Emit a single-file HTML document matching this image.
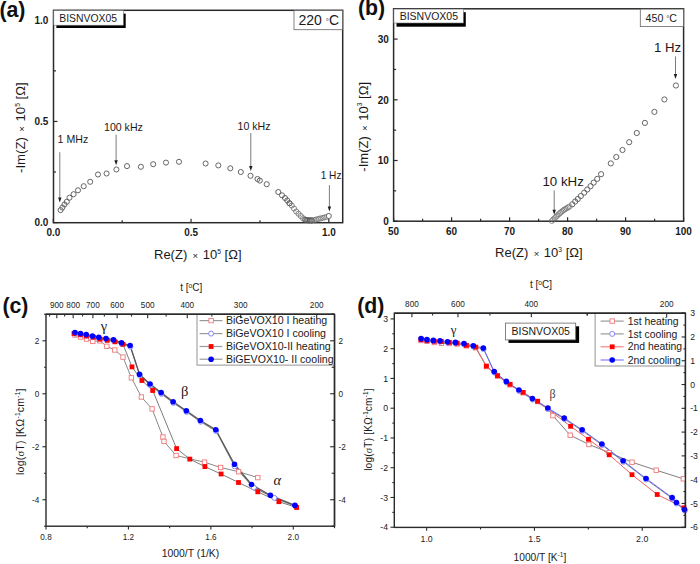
<!DOCTYPE html>
<html><head><meta charset="utf-8"><style>
html,body{margin:0;padding:0;background:#fff;}
body{width:700px;height:564px;overflow:hidden;font-family:"Liberation Sans",sans-serif;}
svg{display:block;}
</style></head><body>
<svg width="700" height="564" viewBox="0 0 700 564">
<rect width="700" height="564" fill="#fff"/>
<rect x="53.5" y="10.3" width="289.2" height="212.4" fill="none" stroke="#2a2a2a" stroke-width="1.5"/>
<line x1="53.5" y1="222.6" x2="57.5" y2="222.6" stroke="#2a2a2a" stroke-width="1.2"/>
<line x1="53.3" y1="222.7" x2="53.3" y2="218.7" stroke="#2a2a2a" stroke-width="1.2"/>
<line x1="53.5" y1="172.02" x2="56" y2="172.02" stroke="#2a2a2a" stroke-width="1.2"/>
<line x1="122.17" y1="222.7" x2="122.17" y2="220.2" stroke="#2a2a2a" stroke-width="1.2"/>
<line x1="53.5" y1="121.45" x2="57.5" y2="121.45" stroke="#2a2a2a" stroke-width="1.2"/>
<line x1="191.05" y1="222.7" x2="191.05" y2="218.7" stroke="#2a2a2a" stroke-width="1.2"/>
<line x1="53.5" y1="70.87" x2="56" y2="70.87" stroke="#2a2a2a" stroke-width="1.2"/>
<line x1="259.93" y1="222.7" x2="259.93" y2="220.2" stroke="#2a2a2a" stroke-width="1.2"/>
<line x1="53.5" y1="20.3" x2="57.5" y2="20.3" stroke="#2a2a2a" stroke-width="1.2"/>
<line x1="328.8" y1="222.7" x2="328.8" y2="218.7" stroke="#2a2a2a" stroke-width="1.2"/>
<text transform="translate(48.4,226.2) scale(0.95,1)" font-family='"Liberation Sans", sans-serif' font-size="10.5" text-anchor="end" font-weight="bold" fill="#1a1a1a">0.0</text>
<text transform="translate(53.3,236.4) scale(0.95,1)" font-family='"Liberation Sans", sans-serif' font-size="10.5" text-anchor="middle" font-weight="bold" fill="#1a1a1a">0.0</text>
<text transform="translate(48.4,125.05) scale(0.95,1)" font-family='"Liberation Sans", sans-serif' font-size="10.5" text-anchor="end" font-weight="bold" fill="#1a1a1a">0.5</text>
<text transform="translate(191.05,236.4) scale(0.95,1)" font-family='"Liberation Sans", sans-serif' font-size="10.5" text-anchor="middle" font-weight="bold" fill="#1a1a1a">0.5</text>
<text transform="translate(48.4,23.9) scale(0.95,1)" font-family='"Liberation Sans", sans-serif' font-size="10.5" text-anchor="end" font-weight="bold" fill="#1a1a1a">1.0</text>
<text transform="translate(328.8,236.4) scale(0.95,1)" font-family='"Liberation Sans", sans-serif' font-size="10.5" text-anchor="middle" font-weight="bold" fill="#1a1a1a">1.0</text>
<text x="53.5" y="0" font-family='"Liberation Sans", sans-serif' font-size="1" text-anchor="start" fill="#1a1a1a"></text>
<text transform="translate(25.1,127.6) rotate(-90)" font-family='"Liberation Sans", sans-serif' font-size="13.2" text-anchor="middle" fill="#1a1a1a">-Im(Z) <tspan font-size="9.5" dx="1.7">×</tspan><tspan dx="1"> 10</tspan><tspan font-size="6.8" dy="-5.6">5</tspan><tspan dy="5.6"> [Ω]</tspan></text>
<text x="154" y="259.2" font-family='"Liberation Sans", sans-serif' font-size="13" fill="#1a1a1a">Re(Z) <tspan font-size="9.5" dx="1.7">×</tspan><tspan dx="1"> 10</tspan><tspan font-size="6.8" dy="-5.6">5</tspan><tspan dy="5.6"> [Ω]</tspan></text>
<text x="-0.6" y="17.2" font-family='"Liberation Sans", sans-serif' font-size="21.3" text-anchor="start" font-weight="bold" fill="#111">(a)</text>
<rect x="56.4" y="13.6" width="69.3" height="14.4" fill="#000"/>
<rect x="53.8" y="10.6" width="69.6" height="14.6" fill="#fff" stroke="#777" stroke-width="0.6"/>
<text x="59.3" y="21.8" font-family='"Liberation Sans", sans-serif' font-size="10.4" text-anchor="start" fill="#1a1a1a">BISNVOX05</text>
<rect x="294" y="10.6" width="48.4" height="19.1" fill="#fff" stroke="#666" stroke-width="0.8"/>
<text x="298.5" y="25.2" font-family='"Liberation Sans", sans-serif' font-size="14" text-anchor="start" fill="#1a1a1a">220 <tspan font-size="8" dy="-1.5">°</tspan><tspan dy="1.5">C</tspan></text>
<circle cx="60.6" cy="210.1" r="2.55" fill="none" stroke="#5e5e5e" stroke-width="0.95"/>
<circle cx="62.4" cy="207.5" r="2.55" fill="none" stroke="#5e5e5e" stroke-width="0.95"/>
<circle cx="64.5" cy="204.5" r="2.55" fill="none" stroke="#5e5e5e" stroke-width="0.95"/>
<circle cx="66.8" cy="201.8" r="2.55" fill="none" stroke="#5e5e5e" stroke-width="0.95"/>
<circle cx="69.5" cy="197.7" r="2.55" fill="none" stroke="#5e5e5e" stroke-width="0.95"/>
<circle cx="73.6" cy="194.2" r="2.55" fill="none" stroke="#5e5e5e" stroke-width="0.95"/>
<circle cx="78" cy="190.3" r="2.55" fill="none" stroke="#5e5e5e" stroke-width="0.95"/>
<circle cx="83.7" cy="186.2" r="2.55" fill="none" stroke="#5e5e5e" stroke-width="0.95"/>
<circle cx="90.2" cy="181.8" r="2.55" fill="none" stroke="#5e5e5e" stroke-width="0.95"/>
<circle cx="98" cy="174.5" r="2.55" fill="none" stroke="#5e5e5e" stroke-width="0.95"/>
<circle cx="106.6" cy="173.5" r="2.55" fill="none" stroke="#5e5e5e" stroke-width="0.95"/>
<circle cx="116.4" cy="169.5" r="2.55" fill="none" stroke="#5e5e5e" stroke-width="0.95"/>
<circle cx="127" cy="166.1" r="2.55" fill="none" stroke="#5e5e5e" stroke-width="0.95"/>
<circle cx="140.9" cy="166.8" r="2.55" fill="none" stroke="#5e5e5e" stroke-width="0.95"/>
<circle cx="153.2" cy="164.2" r="2.55" fill="none" stroke="#5e5e5e" stroke-width="0.95"/>
<circle cx="166" cy="162.6" r="2.55" fill="none" stroke="#5e5e5e" stroke-width="0.95"/>
<circle cx="179" cy="161.8" r="2.55" fill="none" stroke="#5e5e5e" stroke-width="0.95"/>
<circle cx="205.6" cy="163.5" r="2.55" fill="none" stroke="#5e5e5e" stroke-width="0.95"/>
<circle cx="218.3" cy="165.4" r="2.55" fill="none" stroke="#5e5e5e" stroke-width="0.95"/>
<circle cx="230.3" cy="168.3" r="2.55" fill="none" stroke="#5e5e5e" stroke-width="0.95"/>
<circle cx="240.8" cy="172" r="2.55" fill="none" stroke="#5e5e5e" stroke-width="0.95"/>
<circle cx="250.5" cy="175.8" r="2.55" fill="none" stroke="#5e5e5e" stroke-width="0.95"/>
<circle cx="257.5" cy="179" r="2.55" fill="none" stroke="#5e5e5e" stroke-width="0.95"/>
<circle cx="259.8" cy="180.6" r="2.55" fill="none" stroke="#5e5e5e" stroke-width="0.95"/>
<circle cx="266.7" cy="184.2" r="2.55" fill="none" stroke="#5e5e5e" stroke-width="0.95"/>
<circle cx="278.25" cy="192" r="2.55" fill="none" stroke="#5e5e5e" stroke-width="0.95"/>
<circle cx="282" cy="195.3" r="2.55" fill="none" stroke="#5e5e5e" stroke-width="0.95"/>
<circle cx="285" cy="198" r="2.55" fill="none" stroke="#5e5e5e" stroke-width="0.95"/>
<circle cx="287.25" cy="200.5" r="2.55" fill="none" stroke="#5e5e5e" stroke-width="0.95"/>
<circle cx="289.5" cy="203.25" r="2.55" fill="none" stroke="#5e5e5e" stroke-width="0.95"/>
<circle cx="289.5" cy="203.25" r="2.55" fill="none" stroke="#626262" stroke-width="0.75"/>
<circle cx="291.75" cy="205.5" r="2.55" fill="none" stroke="#626262" stroke-width="0.75"/>
<circle cx="294" cy="208.5" r="2.55" fill="none" stroke="#626262" stroke-width="0.75"/>
<circle cx="296.25" cy="211.5" r="2.55" fill="none" stroke="#626262" stroke-width="0.75"/>
<circle cx="298.5" cy="213.75" r="2.55" fill="none" stroke="#626262" stroke-width="0.75"/>
<circle cx="300.75" cy="216" r="2.55" fill="none" stroke="#626262" stroke-width="0.75"/>
<circle cx="303" cy="218.25" r="2.55" fill="none" stroke="#626262" stroke-width="0.75"/>
<circle cx="305.25" cy="219.75" r="2.55" fill="none" stroke="#626262" stroke-width="0.75"/>
<circle cx="305.25" cy="219.75" r="2.55" fill="none" stroke="#555" stroke-width="0.75"/>
<circle cx="306.62" cy="220.03" r="2.55" fill="none" stroke="#555" stroke-width="0.75"/>
<circle cx="308" cy="220.3" r="2.55" fill="none" stroke="#555" stroke-width="0.75"/>
<circle cx="309" cy="220.33" r="2.55" fill="none" stroke="#555" stroke-width="0.75"/>
<circle cx="310" cy="220.35" r="2.55" fill="none" stroke="#555" stroke-width="0.75"/>
<circle cx="311" cy="220.38" r="2.55" fill="none" stroke="#555" stroke-width="0.75"/>
<circle cx="312" cy="220.4" r="2.55" fill="none" stroke="#555" stroke-width="0.75"/>
<circle cx="312" cy="220.4" r="2.55" fill="none" stroke="#6a6a6a" stroke-width="0.65"/>
<circle cx="314.3" cy="220" r="2.55" fill="none" stroke="#6a6a6a" stroke-width="0.65"/>
<circle cx="316" cy="219.55" r="2.55" fill="none" stroke="#6a6a6a" stroke-width="0.65"/>
<circle cx="317.7" cy="219.1" r="2.55" fill="none" stroke="#6a6a6a" stroke-width="0.65"/>
<circle cx="319.4" cy="218.7" r="2.55" fill="none" stroke="#6a6a6a" stroke-width="0.65"/>
<circle cx="321.1" cy="218.3" r="2.55" fill="none" stroke="#6a6a6a" stroke-width="0.65"/>
<circle cx="322.85" cy="217.85" r="2.55" fill="none" stroke="#6a6a6a" stroke-width="0.65"/>
<circle cx="324.6" cy="217.4" r="2.55" fill="none" stroke="#6a6a6a" stroke-width="0.65"/>
<circle cx="326.5" cy="216.9" r="2.55" fill="none" stroke="#6a6a6a" stroke-width="0.65"/>
<circle cx="328.8" cy="216" r="2.55" fill="#fff" stroke="#5e5e5e" stroke-width="0.95"/>
<line x1="59.8" y1="152.2" x2="59.8" y2="198.1" stroke="#505050" stroke-width="0.75"/>
<path d="M58.1,197.6 L61.5,197.6 L59.8,202.6 Z" fill="#1e1e1e"/>
<text x="57.6" y="142.8" font-family='"Liberation Sans", sans-serif' font-size="10.6" text-anchor="start" fill="#1a1a1a">1 MHz</text>
<line x1="116.1" y1="134.6" x2="116.1" y2="160.8" stroke="#505050" stroke-width="0.75"/>
<path d="M114.4,160.3 L117.8,160.3 L116.1,165.3 Z" fill="#1e1e1e"/>
<text x="104" y="130.8" font-family='"Liberation Sans", sans-serif' font-size="10.6" text-anchor="start" fill="#1a1a1a">100 kHz</text>
<line x1="250.8" y1="133" x2="250.8" y2="166.5" stroke="#505050" stroke-width="0.75"/>
<path d="M249.1,166 L252.5,166 L250.8,171 Z" fill="#1e1e1e"/>
<text x="237.6" y="129.8" font-family='"Liberation Sans", sans-serif' font-size="10.6" text-anchor="start" fill="#1a1a1a">10 kHz</text>
<line x1="329.4" y1="185.2" x2="329.4" y2="206.9" stroke="#505050" stroke-width="0.75"/>
<path d="M327.7,206.4 L331.1,206.4 L329.4,211.4 Z" fill="#1e1e1e"/>
<text x="320.7" y="178.8" font-family='"Liberation Sans", sans-serif' font-size="10.1" text-anchor="start" fill="#1a1a1a">1 Hz</text>
<rect x="393.6" y="8.8" width="290" height="212.4" fill="none" stroke="#2a2a2a" stroke-width="1.5"/>
<line x1="393.6" y1="221.2" x2="397.6" y2="221.2" stroke="#2a2a2a" stroke-width="1.2"/>
<line x1="393.6" y1="190.85" x2="396.1" y2="190.85" stroke="#2a2a2a" stroke-width="1.2"/>
<line x1="393.6" y1="160.5" x2="397.6" y2="160.5" stroke="#2a2a2a" stroke-width="1.2"/>
<line x1="393.6" y1="130.15" x2="396.1" y2="130.15" stroke="#2a2a2a" stroke-width="1.2"/>
<line x1="393.6" y1="99.8" x2="397.6" y2="99.8" stroke="#2a2a2a" stroke-width="1.2"/>
<line x1="393.6" y1="69.45" x2="396.1" y2="69.45" stroke="#2a2a2a" stroke-width="1.2"/>
<line x1="393.6" y1="39.1" x2="397.6" y2="39.1" stroke="#2a2a2a" stroke-width="1.2"/>
<line x1="393.6" y1="221.2" x2="393.6" y2="217.2" stroke="#2a2a2a" stroke-width="1.2"/>
<line x1="422.6" y1="221.2" x2="422.6" y2="218.7" stroke="#2a2a2a" stroke-width="1.2"/>
<line x1="451.6" y1="221.2" x2="451.6" y2="217.2" stroke="#2a2a2a" stroke-width="1.2"/>
<line x1="480.6" y1="221.2" x2="480.6" y2="218.7" stroke="#2a2a2a" stroke-width="1.2"/>
<line x1="509.6" y1="221.2" x2="509.6" y2="217.2" stroke="#2a2a2a" stroke-width="1.2"/>
<line x1="538.6" y1="221.2" x2="538.6" y2="218.7" stroke="#2a2a2a" stroke-width="1.2"/>
<line x1="567.6" y1="221.2" x2="567.6" y2="217.2" stroke="#2a2a2a" stroke-width="1.2"/>
<line x1="596.6" y1="221.2" x2="596.6" y2="218.7" stroke="#2a2a2a" stroke-width="1.2"/>
<line x1="625.6" y1="221.2" x2="625.6" y2="217.2" stroke="#2a2a2a" stroke-width="1.2"/>
<line x1="654.6" y1="221.2" x2="654.6" y2="218.7" stroke="#2a2a2a" stroke-width="1.2"/>
<line x1="683.6" y1="221.2" x2="683.6" y2="217.2" stroke="#2a2a2a" stroke-width="1.2"/>
<text transform="translate(388.9,225.1) scale(0.96,1)" font-family='"Liberation Sans", sans-serif' font-size="10.4" text-anchor="end" font-weight="bold" fill="#1a1a1a">0</text>
<text transform="translate(388.9,164.4) scale(0.96,1)" font-family='"Liberation Sans", sans-serif' font-size="10.4" text-anchor="end" font-weight="bold" fill="#1a1a1a">10</text>
<text transform="translate(388.9,103.7) scale(0.96,1)" font-family='"Liberation Sans", sans-serif' font-size="10.4" text-anchor="end" font-weight="bold" fill="#1a1a1a">20</text>
<text transform="translate(388.9,43) scale(0.96,1)" font-family='"Liberation Sans", sans-serif' font-size="10.4" text-anchor="end" font-weight="bold" fill="#1a1a1a">30</text>
<text transform="translate(393.6,235.1) scale(0.96,1)" font-family='"Liberation Sans", sans-serif' font-size="10.4" text-anchor="middle" font-weight="bold" fill="#1a1a1a">50</text>
<text transform="translate(451.6,235.1) scale(0.96,1)" font-family='"Liberation Sans", sans-serif' font-size="10.4" text-anchor="middle" font-weight="bold" fill="#1a1a1a">60</text>
<text transform="translate(509.6,235.1) scale(0.96,1)" font-family='"Liberation Sans", sans-serif' font-size="10.4" text-anchor="middle" font-weight="bold" fill="#1a1a1a">70</text>
<text transform="translate(567.6,235.1) scale(0.96,1)" font-family='"Liberation Sans", sans-serif' font-size="10.4" text-anchor="middle" font-weight="bold" fill="#1a1a1a">80</text>
<text transform="translate(625.6,235.1) scale(0.96,1)" font-family='"Liberation Sans", sans-serif' font-size="10.4" text-anchor="middle" font-weight="bold" fill="#1a1a1a">90</text>
<text transform="translate(683.6,235.1) scale(0.96,1)" font-family='"Liberation Sans", sans-serif' font-size="10.4" text-anchor="middle" font-weight="bold" fill="#1a1a1a">100</text>
<text transform="translate(368,126.8) rotate(-90)" font-family='"Liberation Sans", sans-serif' font-size="13" text-anchor="middle" fill="#1a1a1a">-Im(Z) <tspan font-size="9.5" dx="1.7">×</tspan><tspan dx="1"> 10</tspan><tspan font-size="6.8" dy="-5.6">3</tspan><tspan dy="5.6"> [Ω]</tspan></text>
<text x="495.1" y="257.4" font-family='"Liberation Sans", sans-serif' font-size="13" fill="#1a1a1a">Re(Z) <tspan font-size="9.5" dx="1.7">×</tspan><tspan dx="1"> 10</tspan><tspan font-size="6.8" dy="-5.6">3</tspan><tspan dy="5.6"> [Ω]</tspan></text>
<text x="357.9" y="15.2" font-family='"Liberation Sans", sans-serif' font-size="21.3" text-anchor="start" font-weight="bold" fill="#111">(b)</text>
<rect x="396.5" y="12.2" width="69.3" height="14.5" fill="#000"/>
<rect x="393.9" y="9.1" width="69.5" height="13.9" fill="#fff" stroke="#777" stroke-width="0.6"/>
<text x="399.7" y="20" font-family='"Liberation Sans", sans-serif' font-size="10.5" text-anchor="start" fill="#1a1a1a">BISNVOX05</text>
<rect x="640.3" y="9.1" width="43.1" height="17.5" fill="#fff" stroke="#666" stroke-width="0.8"/>
<text x="645.6" y="21.9" font-family='"Liberation Sans", sans-serif' font-size="10.6" text-anchor="start" fill="#1a1a1a">450 <tspan font-size="7.5" dy="-1">°</tspan><tspan dy="1">C</tspan></text>
<circle cx="551.8" cy="221" r="2.6" fill="none" stroke="#6a6a6a" stroke-width="0.65"/>
<circle cx="553.2" cy="219.6" r="2.6" fill="none" stroke="#6a6a6a" stroke-width="0.65"/>
<circle cx="554.6" cy="218.2" r="2.6" fill="none" stroke="#6a6a6a" stroke-width="0.65"/>
<circle cx="556" cy="216.8" r="2.6" fill="none" stroke="#6a6a6a" stroke-width="0.65"/>
<circle cx="557.33" cy="215.53" r="2.6" fill="none" stroke="#6a6a6a" stroke-width="0.65"/>
<circle cx="558.67" cy="214.27" r="2.6" fill="none" stroke="#6a6a6a" stroke-width="0.65"/>
<circle cx="560" cy="213" r="2.6" fill="none" stroke="#6a6a6a" stroke-width="0.65"/>
<circle cx="561.33" cy="211.93" r="2.6" fill="none" stroke="#6a6a6a" stroke-width="0.65"/>
<circle cx="562.67" cy="210.87" r="2.6" fill="none" stroke="#6a6a6a" stroke-width="0.65"/>
<circle cx="564" cy="209.8" r="2.6" fill="none" stroke="#6a6a6a" stroke-width="0.65"/>
<circle cx="565.38" cy="209" r="2.6" fill="none" stroke="#6a6a6a" stroke-width="0.65"/>
<circle cx="566.75" cy="208.2" r="2.6" fill="none" stroke="#6a6a6a" stroke-width="0.65"/>
<circle cx="568.12" cy="207.4" r="2.6" fill="none" stroke="#6a6a6a" stroke-width="0.65"/>
<circle cx="569.5" cy="206.6" r="2.6" fill="none" stroke="#6a6a6a" stroke-width="0.65"/>
<circle cx="675.9" cy="85.5" r="2.6" fill="none" stroke="#5e5e5e" stroke-width="0.95"/>
<circle cx="664.4" cy="99.5" r="2.6" fill="none" stroke="#5e5e5e" stroke-width="0.95"/>
<circle cx="654.4" cy="111.9" r="2.6" fill="none" stroke="#5e5e5e" stroke-width="0.95"/>
<circle cx="644.9" cy="122.9" r="2.6" fill="none" stroke="#5e5e5e" stroke-width="0.95"/>
<circle cx="636.8" cy="133" r="2.6" fill="none" stroke="#5e5e5e" stroke-width="0.95"/>
<circle cx="629.2" cy="142.2" r="2.6" fill="none" stroke="#5e5e5e" stroke-width="0.95"/>
<circle cx="622.5" cy="150" r="2.6" fill="none" stroke="#5e5e5e" stroke-width="0.95"/>
<circle cx="616.3" cy="157" r="2.6" fill="none" stroke="#5e5e5e" stroke-width="0.95"/>
<circle cx="610.8" cy="163.4" r="2.6" fill="none" stroke="#5e5e5e" stroke-width="0.95"/>
<circle cx="601.1" cy="174.2" r="2.6" fill="none" stroke="#5e5e5e" stroke-width="0.95"/>
<circle cx="597.2" cy="178.9" r="2.6" fill="none" stroke="#5e5e5e" stroke-width="0.95"/>
<circle cx="593.7" cy="182.6" r="2.6" fill="none" stroke="#5e5e5e" stroke-width="0.95"/>
<circle cx="590.5" cy="186.2" r="2.6" fill="none" stroke="#5e5e5e" stroke-width="0.95"/>
<circle cx="587.3" cy="189.5" r="2.6" fill="none" stroke="#5e5e5e" stroke-width="0.95"/>
<circle cx="584.2" cy="192.7" r="2.6" fill="none" stroke="#5e5e5e" stroke-width="0.95"/>
<circle cx="580.8" cy="196" r="2.6" fill="none" stroke="#5e5e5e" stroke-width="0.95"/>
<circle cx="577.8" cy="199" r="2.6" fill="none" stroke="#5e5e5e" stroke-width="0.95"/>
<circle cx="575.2" cy="201.5" r="2.6" fill="none" stroke="#5e5e5e" stroke-width="0.95"/>
<circle cx="572.3" cy="204.3" r="2.6" fill="none" stroke="#5e5e5e" stroke-width="0.95"/>
<line x1="675.5" y1="56.4" x2="675.5" y2="74.5" stroke="#505050" stroke-width="0.75"/>
<path d="M673.8,74 L677.2,74 L675.5,79 Z" fill="#1e1e1e"/>
<text x="654" y="51.5" font-family='"Liberation Sans", sans-serif' font-size="13.2" text-anchor="start" fill="#1a1a1a">1 Hz</text>
<line x1="554.2" y1="190.4" x2="554.2" y2="210.3" stroke="#505050" stroke-width="0.75"/>
<path d="M552.5,209.8 L555.9,209.8 L554.2,214.8 Z" fill="#1e1e1e"/>
<text x="542.4" y="186.4" font-family='"Liberation Sans", sans-serif' font-size="13.3" text-anchor="start" fill="#1a1a1a">10 kHz</text>
<rect x="46" y="314.3" width="288.5" height="211.9" fill="none" stroke="#2a2a2a" stroke-width="1.4"/>
<line x1="46" y1="526.22" x2="44" y2="526.22" stroke="#2a2a2a" stroke-width="1.1"/>
<line x1="334.5" y1="526.22" x2="331.7" y2="526.22" stroke="#2a2a2a" stroke-width="1.1"/>
<line x1="46" y1="499.73" x2="42.4" y2="499.73" stroke="#2a2a2a" stroke-width="1.1"/>
<line x1="334.5" y1="499.73" x2="330.1" y2="499.73" stroke="#2a2a2a" stroke-width="1.1"/>
<line x1="46" y1="473.24" x2="44" y2="473.24" stroke="#2a2a2a" stroke-width="1.1"/>
<line x1="334.5" y1="473.24" x2="331.7" y2="473.24" stroke="#2a2a2a" stroke-width="1.1"/>
<line x1="46" y1="446.75" x2="42.4" y2="446.75" stroke="#2a2a2a" stroke-width="1.1"/>
<line x1="334.5" y1="446.75" x2="330.1" y2="446.75" stroke="#2a2a2a" stroke-width="1.1"/>
<line x1="46" y1="420.26" x2="44" y2="420.26" stroke="#2a2a2a" stroke-width="1.1"/>
<line x1="334.5" y1="420.26" x2="331.7" y2="420.26" stroke="#2a2a2a" stroke-width="1.1"/>
<line x1="46" y1="393.77" x2="42.4" y2="393.77" stroke="#2a2a2a" stroke-width="1.1"/>
<line x1="334.5" y1="393.77" x2="330.1" y2="393.77" stroke="#2a2a2a" stroke-width="1.1"/>
<line x1="46" y1="367.28" x2="44" y2="367.28" stroke="#2a2a2a" stroke-width="1.1"/>
<line x1="334.5" y1="367.28" x2="331.7" y2="367.28" stroke="#2a2a2a" stroke-width="1.1"/>
<line x1="46" y1="340.79" x2="42.4" y2="340.79" stroke="#2a2a2a" stroke-width="1.1"/>
<line x1="334.5" y1="340.79" x2="330.1" y2="340.79" stroke="#2a2a2a" stroke-width="1.1"/>
<line x1="46" y1="314.3" x2="44" y2="314.3" stroke="#2a2a2a" stroke-width="1.1"/>
<line x1="334.5" y1="314.3" x2="331.7" y2="314.3" stroke="#2a2a2a" stroke-width="1.1"/>
<line x1="46" y1="526.2" x2="46" y2="529.4" stroke="#2a2a2a" stroke-width="1.1"/>
<line x1="87.21" y1="526.2" x2="87.21" y2="528.2" stroke="#2a2a2a" stroke-width="1.1"/>
<line x1="128.43" y1="526.2" x2="128.43" y2="529.4" stroke="#2a2a2a" stroke-width="1.1"/>
<line x1="169.64" y1="526.2" x2="169.64" y2="528.2" stroke="#2a2a2a" stroke-width="1.1"/>
<line x1="210.86" y1="526.2" x2="210.86" y2="529.4" stroke="#2a2a2a" stroke-width="1.1"/>
<line x1="252.07" y1="526.2" x2="252.07" y2="528.2" stroke="#2a2a2a" stroke-width="1.1"/>
<line x1="293.28" y1="526.2" x2="293.28" y2="529.4" stroke="#2a2a2a" stroke-width="1.1"/>
<line x1="334.5" y1="526.2" x2="334.5" y2="528.2" stroke="#2a2a2a" stroke-width="1.1"/>
<line x1="316.67" y1="314.3" x2="316.67" y2="318.3" stroke="#2a2a2a" stroke-width="1.1"/>
<line x1="275.05" y1="314.3" x2="275.05" y2="316.5" stroke="#2a2a2a" stroke-width="1.1"/>
<line x1="240.68" y1="314.3" x2="240.68" y2="318.3" stroke="#2a2a2a" stroke-width="1.1"/>
<line x1="211.83" y1="314.3" x2="211.83" y2="316.5" stroke="#2a2a2a" stroke-width="1.1"/>
<line x1="187.27" y1="314.3" x2="187.27" y2="318.3" stroke="#2a2a2a" stroke-width="1.1"/>
<line x1="166.11" y1="314.3" x2="166.11" y2="316.5" stroke="#2a2a2a" stroke-width="1.1"/>
<line x1="147.68" y1="314.3" x2="147.68" y2="318.3" stroke="#2a2a2a" stroke-width="1.1"/>
<line x1="131.49" y1="314.3" x2="131.49" y2="316.5" stroke="#2a2a2a" stroke-width="1.1"/>
<line x1="117.15" y1="314.3" x2="117.15" y2="318.3" stroke="#2a2a2a" stroke-width="1.1"/>
<line x1="104.37" y1="314.3" x2="104.37" y2="316.5" stroke="#2a2a2a" stroke-width="1.1"/>
<line x1="92.9" y1="314.3" x2="92.9" y2="318.3" stroke="#2a2a2a" stroke-width="1.1"/>
<line x1="82.55" y1="314.3" x2="82.55" y2="316.5" stroke="#2a2a2a" stroke-width="1.1"/>
<line x1="73.17" y1="314.3" x2="73.17" y2="318.3" stroke="#2a2a2a" stroke-width="1.1"/>
<line x1="64.62" y1="314.3" x2="64.62" y2="316.5" stroke="#2a2a2a" stroke-width="1.1"/>
<line x1="56.8" y1="314.3" x2="56.8" y2="318.3" stroke="#2a2a2a" stroke-width="1.1"/>
<line x1="49.62" y1="314.3" x2="49.62" y2="316.5" stroke="#2a2a2a" stroke-width="1.1"/>
<text x="39.4" y="343.69" font-family='"Liberation Sans", sans-serif' font-size="8.2" text-anchor="end" fill="#1a1a1a">2</text>
<text x="338.6" y="343.69" font-family='"Liberation Sans", sans-serif' font-size="8.2" text-anchor="start" fill="#1a1a1a">2</text>
<text x="39.4" y="396.67" font-family='"Liberation Sans", sans-serif' font-size="8.2" text-anchor="end" fill="#1a1a1a">0</text>
<text x="338.6" y="396.67" font-family='"Liberation Sans", sans-serif' font-size="8.2" text-anchor="start" fill="#1a1a1a">0</text>
<text x="39.4" y="449.65" font-family='"Liberation Sans", sans-serif' font-size="8.2" text-anchor="end" fill="#1a1a1a">-2</text>
<text x="338.6" y="449.65" font-family='"Liberation Sans", sans-serif' font-size="8.2" text-anchor="start" fill="#1a1a1a">-2</text>
<text x="39.4" y="502.63" font-family='"Liberation Sans", sans-serif' font-size="8.2" text-anchor="end" fill="#1a1a1a">-4</text>
<text x="338.6" y="502.63" font-family='"Liberation Sans", sans-serif' font-size="8.2" text-anchor="start" fill="#1a1a1a">-4</text>
<text x="46" y="540.2" font-family='"Liberation Sans", sans-serif' font-size="8.2" text-anchor="middle" fill="#1a1a1a">0.8</text>
<text x="128.43" y="540.2" font-family='"Liberation Sans", sans-serif' font-size="8.2" text-anchor="middle" fill="#1a1a1a">1.2</text>
<text x="210.86" y="540.2" font-family='"Liberation Sans", sans-serif' font-size="8.2" text-anchor="middle" fill="#1a1a1a">1.6</text>
<text x="293.28" y="540.2" font-family='"Liberation Sans", sans-serif' font-size="8.2" text-anchor="middle" fill="#1a1a1a">2.0</text>
<text x="316.67" y="307.6" font-family='"Liberation Sans", sans-serif' font-size="8.2" text-anchor="middle" fill="#1a1a1a">200</text>
<text x="240.68" y="307.6" font-family='"Liberation Sans", sans-serif' font-size="8.2" text-anchor="middle" fill="#1a1a1a">300</text>
<text x="187.27" y="307.6" font-family='"Liberation Sans", sans-serif' font-size="8.2" text-anchor="middle" fill="#1a1a1a">400</text>
<text x="147.68" y="307.6" font-family='"Liberation Sans", sans-serif' font-size="8.2" text-anchor="middle" fill="#1a1a1a">500</text>
<text x="117.15" y="307.6" font-family='"Liberation Sans", sans-serif' font-size="8.2" text-anchor="middle" fill="#1a1a1a">600</text>
<text x="92.9" y="307.6" font-family='"Liberation Sans", sans-serif' font-size="8.2" text-anchor="middle" fill="#1a1a1a">700</text>
<text x="73.17" y="307.6" font-family='"Liberation Sans", sans-serif' font-size="8.2" text-anchor="middle" fill="#1a1a1a">800</text>
<text x="56.8" y="307.6" font-family='"Liberation Sans", sans-serif' font-size="8.2" text-anchor="middle" fill="#1a1a1a">900</text>
<text x="180.2" y="291.3" font-family='"Liberation Sans", sans-serif' font-size="10" text-anchor="start" fill="#1a1a1a">t [<tspan font-size="6.5" dy="-3.5">o</tspan><tspan dy="3.5">C]</tspan></text>
<text x="161.7" y="557.4" font-family='"Liberation Sans", sans-serif' font-size="10.4" text-anchor="start" fill="#1a1a1a">1000/T (1/K)</text>
<text transform="translate(24.2,431.8) rotate(-90)" font-family='"Liberation Sans", sans-serif' font-size="10.5" text-anchor="middle" textLength="86.5" lengthAdjust="spacing" fill="#1a1a1a">log(<tspan font-family='"Liberation Serif", serif'>σ</tspan>T) [KΩ<tspan font-size="6.5" dy="-4">-1</tspan><tspan dy="4">cm</tspan><tspan font-size="6.5" dy="-4">-1</tspan><tspan dy="4">]</tspan></text>
<text x="2.4" y="312.7" font-family='"Liberation Sans", sans-serif' font-size="21.3" text-anchor="start" font-weight="bold" fill="#111">(c)</text>
<text x="103.9" y="330.7" font-family='"Liberation Serif", serif' font-size="14.5" text-anchor="middle" fill="#1a1a1a">γ</text>
<text x="184.75" y="395.6" font-family='"Liberation Serif", serif' font-size="14.5" text-anchor="middle" fill="#1a1a1a">β</text>
<text x="277.3" y="484.8" font-family='"Liberation Serif", serif' font-size="14.5" text-anchor="middle" fill="#1a1a1a" font-style="italic">α</text>
<polyline points="75,335 80.5,337 86.5,339 92.8,341.4 99.6,340.8 106.8,346.3 114.8,350 123,357.1 131.4,377.8 141.4,397 152.1,408.9 162.9,437 164,441.4 176.1,455.5 204.5,462.2 220.6,467.5 238.6,471.7 257.8,477.6" fill="none" stroke="#8a8a8a" stroke-width="1.0" stroke-linejoin="round"/>
<polyline points="74,333.5 80.5,334.5 86.5,336 93.5,337.2 100,339.2 107.3,340.3 115,341.8 123,344.3 132,366.9 141.9,380.5 152.7,390.5 176.6,448.6 189.8,459.1 204.9,466.6 221.1,474 238.5,482.5 257.8,491.8 278.9,501.7 296.6,507.5" fill="none" stroke="#7c7c7c" stroke-width="1.0" stroke-linejoin="round"/>
<polyline points="75.3,333.7 80.8,334.7 86.5,335.7 92.7,337.2 99.1,338.5 106.3,339.7 113.8,340.9 121.8,344 130.4,346.7 139.8,375.4 150.3,385.2 161.4,393.8 173.4,402.9 186.6,411.9 200.7,421.7 216.1,431 234.6,466.3 253.8,487.6 274.4,497.9 295.3,506.2" fill="none" stroke="#808080" stroke-width="1.1" stroke-linejoin="round"/>
<polyline points="75,332.5 80.5,333.5 86.2,334.5 92.4,336 98.8,337.3 106,338.5 113.5,339.7 121.5,342.8 130.1,345.5 139.5,374.2 150,384 161.1,392.6 173.1,401.7 186.3,410.7 200.4,420.5 215.8,429.8 234.5,464.2 251.5,484.5 270.4,495.3 294.9,505.3" fill="none" stroke="#585858" stroke-width="1.25" stroke-linejoin="round"/>
<rect x="72.8" y="332.8" width="4.4" height="4.4" fill="#fff" stroke="#f07878" stroke-width="0.9"/>
<rect x="78.3" y="334.8" width="4.4" height="4.4" fill="#fff" stroke="#f07878" stroke-width="0.9"/>
<rect x="84.3" y="336.8" width="4.4" height="4.4" fill="#fff" stroke="#f07878" stroke-width="0.9"/>
<rect x="90.6" y="339.2" width="4.4" height="4.4" fill="#fff" stroke="#f07878" stroke-width="0.9"/>
<rect x="97.4" y="338.6" width="4.4" height="4.4" fill="#fff" stroke="#f07878" stroke-width="0.9"/>
<rect x="104.6" y="344.1" width="4.4" height="4.4" fill="#fff" stroke="#f07878" stroke-width="0.9"/>
<rect x="112.6" y="347.8" width="4.4" height="4.4" fill="#fff" stroke="#f07878" stroke-width="0.9"/>
<rect x="120.8" y="354.9" width="4.4" height="4.4" fill="#fff" stroke="#f07878" stroke-width="0.9"/>
<rect x="129.2" y="375.6" width="4.4" height="4.4" fill="#fff" stroke="#f07878" stroke-width="0.9"/>
<rect x="139.2" y="394.8" width="4.4" height="4.4" fill="#fff" stroke="#f07878" stroke-width="0.9"/>
<rect x="149.9" y="406.7" width="4.4" height="4.4" fill="#fff" stroke="#f07878" stroke-width="0.9"/>
<rect x="160.7" y="434.8" width="4.4" height="4.4" fill="#fff" stroke="#f07878" stroke-width="0.9"/>
<rect x="161.8" y="439.2" width="4.4" height="4.4" fill="#fff" stroke="#f07878" stroke-width="0.9"/>
<rect x="173.9" y="453.3" width="4.4" height="4.4" fill="#fff" stroke="#f07878" stroke-width="0.9"/>
<rect x="202.3" y="460" width="4.4" height="4.4" fill="#fff" stroke="#f07878" stroke-width="0.9"/>
<rect x="218.4" y="465.3" width="4.4" height="4.4" fill="#fff" stroke="#f07878" stroke-width="0.9"/>
<rect x="236.4" y="469.5" width="4.4" height="4.4" fill="#fff" stroke="#f07878" stroke-width="0.9"/>
<rect x="255.6" y="475.4" width="4.4" height="4.4" fill="#fff" stroke="#f07878" stroke-width="0.9"/>
<circle cx="75.3" cy="333.7" r="2.5" fill="#fff" stroke="#7878ff" stroke-width="0.9"/>
<circle cx="80.8" cy="334.7" r="2.5" fill="#fff" stroke="#7878ff" stroke-width="0.9"/>
<circle cx="86.5" cy="335.7" r="2.5" fill="#fff" stroke="#7878ff" stroke-width="0.9"/>
<circle cx="92.7" cy="337.2" r="2.5" fill="#fff" stroke="#7878ff" stroke-width="0.9"/>
<circle cx="99.1" cy="338.5" r="2.5" fill="#fff" stroke="#7878ff" stroke-width="0.9"/>
<circle cx="106.3" cy="339.7" r="2.5" fill="#fff" stroke="#7878ff" stroke-width="0.9"/>
<circle cx="113.8" cy="340.9" r="2.5" fill="#fff" stroke="#7878ff" stroke-width="0.9"/>
<circle cx="121.8" cy="344" r="2.5" fill="#fff" stroke="#7878ff" stroke-width="0.9"/>
<circle cx="130.4" cy="346.7" r="2.5" fill="#fff" stroke="#7878ff" stroke-width="0.9"/>
<circle cx="139.8" cy="375.4" r="2.5" fill="#fff" stroke="#7878ff" stroke-width="0.9"/>
<circle cx="150.3" cy="385.2" r="2.5" fill="#fff" stroke="#7878ff" stroke-width="0.9"/>
<circle cx="161.4" cy="393.8" r="2.5" fill="#fff" stroke="#7878ff" stroke-width="0.9"/>
<circle cx="173.4" cy="402.9" r="2.5" fill="#fff" stroke="#7878ff" stroke-width="0.9"/>
<circle cx="186.6" cy="411.9" r="2.5" fill="#fff" stroke="#7878ff" stroke-width="0.9"/>
<circle cx="200.7" cy="421.7" r="2.5" fill="#fff" stroke="#7878ff" stroke-width="0.9"/>
<circle cx="216.1" cy="431" r="2.5" fill="#fff" stroke="#7878ff" stroke-width="0.9"/>
<circle cx="234.6" cy="466.3" r="2.5" fill="#fff" stroke="#7878ff" stroke-width="0.9"/>
<circle cx="253.8" cy="487.6" r="2.5" fill="#fff" stroke="#7878ff" stroke-width="0.9"/>
<circle cx="274.4" cy="497.9" r="2.5" fill="#fff" stroke="#7878ff" stroke-width="0.9"/>
<circle cx="295.3" cy="506.2" r="2.5" fill="#fff" stroke="#7878ff" stroke-width="0.9"/>
<rect x="71.6" y="331.1" width="4.8" height="4.8" fill="#ff0000" stroke="none" stroke-width="0.8"/>
<rect x="78.1" y="332.1" width="4.8" height="4.8" fill="#ff0000" stroke="none" stroke-width="0.8"/>
<rect x="84.1" y="333.6" width="4.8" height="4.8" fill="#ff0000" stroke="none" stroke-width="0.8"/>
<rect x="91.1" y="334.8" width="4.8" height="4.8" fill="#ff0000" stroke="none" stroke-width="0.8"/>
<rect x="97.6" y="336.8" width="4.8" height="4.8" fill="#ff0000" stroke="none" stroke-width="0.8"/>
<rect x="104.9" y="337.9" width="4.8" height="4.8" fill="#ff0000" stroke="none" stroke-width="0.8"/>
<rect x="112.6" y="339.4" width="4.8" height="4.8" fill="#ff0000" stroke="none" stroke-width="0.8"/>
<rect x="120.6" y="341.9" width="4.8" height="4.8" fill="#ff0000" stroke="none" stroke-width="0.8"/>
<rect x="129.6" y="364.5" width="4.8" height="4.8" fill="#ff0000" stroke="none" stroke-width="0.8"/>
<rect x="139.5" y="378.1" width="4.8" height="4.8" fill="#ff0000" stroke="none" stroke-width="0.8"/>
<rect x="150.3" y="388.1" width="4.8" height="4.8" fill="#ff0000" stroke="none" stroke-width="0.8"/>
<rect x="174.2" y="446.2" width="4.8" height="4.8" fill="#ff0000" stroke="none" stroke-width="0.8"/>
<rect x="187.4" y="456.7" width="4.8" height="4.8" fill="#ff0000" stroke="none" stroke-width="0.8"/>
<rect x="202.5" y="464.2" width="4.8" height="4.8" fill="#ff0000" stroke="none" stroke-width="0.8"/>
<rect x="218.7" y="471.6" width="4.8" height="4.8" fill="#ff0000" stroke="none" stroke-width="0.8"/>
<rect x="236.1" y="480.1" width="4.8" height="4.8" fill="#ff0000" stroke="none" stroke-width="0.8"/>
<rect x="255.4" y="489.4" width="4.8" height="4.8" fill="#ff0000" stroke="none" stroke-width="0.8"/>
<rect x="276.5" y="499.3" width="4.8" height="4.8" fill="#ff0000" stroke="none" stroke-width="0.8"/>
<rect x="294.2" y="505.1" width="4.8" height="4.8" fill="#ff0000" stroke="none" stroke-width="0.8"/>
<circle cx="75" cy="332.5" r="2.8" fill="#0000ff" stroke="none" stroke-width="0"/>
<circle cx="80.5" cy="333.5" r="2.8" fill="#0000ff" stroke="none" stroke-width="0"/>
<circle cx="86.2" cy="334.5" r="2.8" fill="#0000ff" stroke="none" stroke-width="0"/>
<circle cx="92.4" cy="336" r="2.8" fill="#0000ff" stroke="none" stroke-width="0"/>
<circle cx="98.8" cy="337.3" r="2.8" fill="#0000ff" stroke="none" stroke-width="0"/>
<circle cx="106" cy="338.5" r="2.8" fill="#0000ff" stroke="none" stroke-width="0"/>
<circle cx="113.5" cy="339.7" r="2.8" fill="#0000ff" stroke="none" stroke-width="0"/>
<circle cx="121.5" cy="342.8" r="2.8" fill="#0000ff" stroke="none" stroke-width="0"/>
<circle cx="130.1" cy="345.5" r="2.8" fill="#0000ff" stroke="none" stroke-width="0"/>
<circle cx="139.5" cy="374.2" r="2.8" fill="#0000ff" stroke="none" stroke-width="0"/>
<circle cx="150" cy="384" r="2.8" fill="#0000ff" stroke="none" stroke-width="0"/>
<circle cx="161.1" cy="392.6" r="2.8" fill="#0000ff" stroke="none" stroke-width="0"/>
<circle cx="173.1" cy="401.7" r="2.8" fill="#0000ff" stroke="none" stroke-width="0"/>
<circle cx="186.3" cy="410.7" r="2.8" fill="#0000ff" stroke="none" stroke-width="0"/>
<circle cx="200.4" cy="420.5" r="2.8" fill="#0000ff" stroke="none" stroke-width="0"/>
<circle cx="215.8" cy="429.8" r="2.8" fill="#0000ff" stroke="none" stroke-width="0"/>
<circle cx="234.5" cy="464.2" r="2.8" fill="#0000ff" stroke="none" stroke-width="0"/>
<circle cx="251.5" cy="484.5" r="2.8" fill="#0000ff" stroke="none" stroke-width="0"/>
<circle cx="270.4" cy="495.3" r="2.8" fill="#0000ff" stroke="none" stroke-width="0"/>
<circle cx="294.9" cy="505.3" r="2.8" fill="#0000ff" stroke="none" stroke-width="0"/>
<rect x="197" y="314.3" width="137.2" height="50.8" fill="#fff" stroke="#888" stroke-width="0.9"/>
<line x1="46" y1="314.3" x2="334.5" y2="314.3" stroke="#2a2a2a" stroke-width="1.4"/>
<line x1="316.67" y1="314.3" x2="316.67" y2="318.3" stroke="#2a2a2a" stroke-width="1.1"/>
<line x1="275.05" y1="314.3" x2="275.05" y2="316.5" stroke="#2a2a2a" stroke-width="1.1"/>
<line x1="240.68" y1="314.3" x2="240.68" y2="318.3" stroke="#2a2a2a" stroke-width="1.1"/>
<line x1="211.83" y1="314.3" x2="211.83" y2="316.5" stroke="#2a2a2a" stroke-width="1.1"/>
<line x1="334.5" y1="314.3" x2="334.5" y2="526.2" stroke="#2a2a2a" stroke-width="1.4"/>
<line x1="334.5" y1="340.79" x2="330.1" y2="340.79" stroke="#2a2a2a" stroke-width="1.1"/>
<line x1="334.5" y1="314.3" x2="331.7" y2="314.3" stroke="#2a2a2a" stroke-width="1.1"/>
<line x1="199.6" y1="320.6" x2="222.4" y2="320.6" stroke="#9a9a9a" stroke-width="1.2"/>
<rect x="208.9" y="318.4" width="4.4" height="4.4" fill="#fff" stroke="#f07878" stroke-width="0.9"/>
<text x="225.9" y="324.3" font-family='"Liberation Sans", sans-serif' font-size="10.6" text-anchor="start" fill="#1a1a1a">BiGeVOX10 I heating</text>
<line x1="199.6" y1="333.6" x2="222.4" y2="333.6" stroke="#9a9a9a" stroke-width="1.2"/>
<circle cx="211.1" cy="333.6" r="2.5" fill="#fff" stroke="#7878ff" stroke-width="0.9"/>
<text x="225.9" y="337.3" font-family='"Liberation Sans", sans-serif' font-size="10.6" text-anchor="start" fill="#1a1a1a">BiGeVOX10 I cooling</text>
<line x1="199.6" y1="346.5" x2="222.4" y2="346.5" stroke="#9a9a9a" stroke-width="1.2"/>
<rect x="208.7" y="344.1" width="4.8" height="4.8" fill="#ff0000" stroke="none" stroke-width="0.8"/>
<text x="225.9" y="350.2" font-family='"Liberation Sans", sans-serif' font-size="10.6" text-anchor="start" fill="#1a1a1a">BiGeVOX10-II heating</text>
<line x1="199.6" y1="359.2" x2="222.4" y2="359.2" stroke="#9a9a9a" stroke-width="1.2"/>
<circle cx="211.1" cy="359.2" r="2.8" fill="#0000ff" stroke="none" stroke-width="0"/>
<text x="225.9" y="362.9" font-family='"Liberation Sans", sans-serif' font-size="10.6" text-anchor="start" fill="#1a1a1a">BiGEVOX10- II cooling</text>
<rect x="394.3" y="313.2" width="291.1" height="214.2" fill="none" stroke="#2a2a2a" stroke-width="1.4"/>
<line x1="394.3" y1="527.24" x2="390.5" y2="527.24" stroke="#2a2a2a" stroke-width="1.1"/>
<line x1="394.3" y1="512.36" x2="392.3" y2="512.36" stroke="#2a2a2a" stroke-width="1.1"/>
<line x1="394.3" y1="497.48" x2="390.5" y2="497.48" stroke="#2a2a2a" stroke-width="1.1"/>
<line x1="394.3" y1="482.6" x2="392.3" y2="482.6" stroke="#2a2a2a" stroke-width="1.1"/>
<line x1="394.3" y1="467.72" x2="390.5" y2="467.72" stroke="#2a2a2a" stroke-width="1.1"/>
<line x1="394.3" y1="452.84" x2="392.3" y2="452.84" stroke="#2a2a2a" stroke-width="1.1"/>
<line x1="394.3" y1="437.96" x2="390.5" y2="437.96" stroke="#2a2a2a" stroke-width="1.1"/>
<line x1="394.3" y1="423.08" x2="392.3" y2="423.08" stroke="#2a2a2a" stroke-width="1.1"/>
<line x1="394.3" y1="408.2" x2="390.5" y2="408.2" stroke="#2a2a2a" stroke-width="1.1"/>
<line x1="394.3" y1="393.32" x2="392.3" y2="393.32" stroke="#2a2a2a" stroke-width="1.1"/>
<line x1="394.3" y1="378.44" x2="390.5" y2="378.44" stroke="#2a2a2a" stroke-width="1.1"/>
<line x1="394.3" y1="363.56" x2="392.3" y2="363.56" stroke="#2a2a2a" stroke-width="1.1"/>
<line x1="394.3" y1="348.68" x2="390.5" y2="348.68" stroke="#2a2a2a" stroke-width="1.1"/>
<line x1="394.3" y1="333.8" x2="392.3" y2="333.8" stroke="#2a2a2a" stroke-width="1.1"/>
<line x1="394.3" y1="318.92" x2="390.5" y2="318.92" stroke="#2a2a2a" stroke-width="1.1"/>
<line x1="685.4" y1="527.22" x2="681.6" y2="527.22" stroke="#2a2a2a" stroke-width="1.1"/>
<line x1="685.4" y1="515.33" x2="683.4" y2="515.33" stroke="#2a2a2a" stroke-width="1.1"/>
<line x1="685.4" y1="503.44" x2="681.6" y2="503.44" stroke="#2a2a2a" stroke-width="1.1"/>
<line x1="685.4" y1="491.55" x2="683.4" y2="491.55" stroke="#2a2a2a" stroke-width="1.1"/>
<line x1="685.4" y1="479.66" x2="681.6" y2="479.66" stroke="#2a2a2a" stroke-width="1.1"/>
<line x1="685.4" y1="467.77" x2="683.4" y2="467.77" stroke="#2a2a2a" stroke-width="1.1"/>
<line x1="685.4" y1="455.88" x2="681.6" y2="455.88" stroke="#2a2a2a" stroke-width="1.1"/>
<line x1="685.4" y1="443.99" x2="683.4" y2="443.99" stroke="#2a2a2a" stroke-width="1.1"/>
<line x1="685.4" y1="432.1" x2="681.6" y2="432.1" stroke="#2a2a2a" stroke-width="1.1"/>
<line x1="685.4" y1="420.21" x2="683.4" y2="420.21" stroke="#2a2a2a" stroke-width="1.1"/>
<line x1="685.4" y1="408.32" x2="681.6" y2="408.32" stroke="#2a2a2a" stroke-width="1.1"/>
<line x1="685.4" y1="396.43" x2="683.4" y2="396.43" stroke="#2a2a2a" stroke-width="1.1"/>
<line x1="685.4" y1="384.54" x2="681.6" y2="384.54" stroke="#2a2a2a" stroke-width="1.1"/>
<line x1="685.4" y1="372.65" x2="683.4" y2="372.65" stroke="#2a2a2a" stroke-width="1.1"/>
<line x1="685.4" y1="360.76" x2="681.6" y2="360.76" stroke="#2a2a2a" stroke-width="1.1"/>
<line x1="685.4" y1="348.87" x2="683.4" y2="348.87" stroke="#2a2a2a" stroke-width="1.1"/>
<line x1="685.4" y1="336.98" x2="681.6" y2="336.98" stroke="#2a2a2a" stroke-width="1.1"/>
<line x1="685.4" y1="325.09" x2="683.4" y2="325.09" stroke="#2a2a2a" stroke-width="1.1"/>
<line x1="685.4" y1="313.2" x2="681.6" y2="313.2" stroke="#2a2a2a" stroke-width="1.1"/>
<line x1="426.64" y1="527.4" x2="426.64" y2="530.8" stroke="#2a2a2a" stroke-width="1.1"/>
<line x1="480.54" y1="527.4" x2="480.54" y2="529.4" stroke="#2a2a2a" stroke-width="1.1"/>
<line x1="534.44" y1="527.4" x2="534.44" y2="530.8" stroke="#2a2a2a" stroke-width="1.1"/>
<line x1="588.34" y1="527.4" x2="588.34" y2="529.4" stroke="#2a2a2a" stroke-width="1.1"/>
<line x1="642.24" y1="527.4" x2="642.24" y2="530.8" stroke="#2a2a2a" stroke-width="1.1"/>
<line x1="666.71" y1="313.2" x2="666.71" y2="317.2" stroke="#2a2a2a" stroke-width="1.1"/>
<line x1="587.21" y1="313.2" x2="587.21" y2="315.6" stroke="#2a2a2a" stroke-width="1.1"/>
<line x1="531.33" y1="313.2" x2="531.33" y2="317.2" stroke="#2a2a2a" stroke-width="1.1"/>
<line x1="489.9" y1="313.2" x2="489.9" y2="315.6" stroke="#2a2a2a" stroke-width="1.1"/>
<line x1="457.96" y1="313.2" x2="457.96" y2="317.2" stroke="#2a2a2a" stroke-width="1.1"/>
<line x1="432.59" y1="313.2" x2="432.59" y2="315.6" stroke="#2a2a2a" stroke-width="1.1"/>
<line x1="411.94" y1="313.2" x2="411.94" y2="317.2" stroke="#2a2a2a" stroke-width="1.1"/>
<text x="388" y="530.34" font-family='"Liberation Sans", sans-serif' font-size="8.7" text-anchor="end" fill="#1a1a1a">-4</text>
<text x="388" y="500.58" font-family='"Liberation Sans", sans-serif' font-size="8.7" text-anchor="end" fill="#1a1a1a">-3</text>
<text x="388" y="470.82" font-family='"Liberation Sans", sans-serif' font-size="8.7" text-anchor="end" fill="#1a1a1a">-2</text>
<text x="388" y="441.06" font-family='"Liberation Sans", sans-serif' font-size="8.7" text-anchor="end" fill="#1a1a1a">-1</text>
<text x="388" y="411.3" font-family='"Liberation Sans", sans-serif' font-size="8.7" text-anchor="end" fill="#1a1a1a">0</text>
<text x="388" y="381.54" font-family='"Liberation Sans", sans-serif' font-size="8.7" text-anchor="end" fill="#1a1a1a">1</text>
<text x="388" y="351.78" font-family='"Liberation Sans", sans-serif' font-size="8.7" text-anchor="end" fill="#1a1a1a">2</text>
<text x="388" y="322.02" font-family='"Liberation Sans", sans-serif' font-size="8.7" text-anchor="end" fill="#1a1a1a">3</text>
<text x="690.2" y="530.32" font-family='"Liberation Sans", sans-serif' font-size="8.7" text-anchor="start" fill="#1a1a1a">-6</text>
<text x="690.2" y="506.54" font-family='"Liberation Sans", sans-serif' font-size="8.7" text-anchor="start" fill="#1a1a1a">-5</text>
<text x="690.2" y="482.76" font-family='"Liberation Sans", sans-serif' font-size="8.7" text-anchor="start" fill="#1a1a1a">-4</text>
<text x="690.2" y="458.98" font-family='"Liberation Sans", sans-serif' font-size="8.7" text-anchor="start" fill="#1a1a1a">-3</text>
<text x="690.2" y="435.2" font-family='"Liberation Sans", sans-serif' font-size="8.7" text-anchor="start" fill="#1a1a1a">-2</text>
<text x="690.2" y="411.42" font-family='"Liberation Sans", sans-serif' font-size="8.7" text-anchor="start" fill="#1a1a1a">-1</text>
<text x="690.2" y="387.64" font-family='"Liberation Sans", sans-serif' font-size="8.7" text-anchor="start" fill="#1a1a1a">0</text>
<text x="690.2" y="363.86" font-family='"Liberation Sans", sans-serif' font-size="8.7" text-anchor="start" fill="#1a1a1a">1</text>
<text x="690.2" y="340.08" font-family='"Liberation Sans", sans-serif' font-size="8.7" text-anchor="start" fill="#1a1a1a">2</text>
<text x="690.2" y="316.3" font-family='"Liberation Sans", sans-serif' font-size="8.7" text-anchor="start" fill="#1a1a1a">3</text>
<text x="426.64" y="541.9" font-family='"Liberation Sans", sans-serif' font-size="8.8" text-anchor="middle" fill="#1a1a1a">1.0</text>
<text x="534.44" y="541.9" font-family='"Liberation Sans", sans-serif' font-size="8.8" text-anchor="middle" fill="#1a1a1a">1.5</text>
<text x="642.24" y="541.9" font-family='"Liberation Sans", sans-serif' font-size="8.8" text-anchor="middle" fill="#1a1a1a">2.0</text>
<text x="666.71" y="306.6" font-family='"Liberation Sans", sans-serif' font-size="8.2" text-anchor="middle" fill="#1a1a1a">200</text>
<text x="531.33" y="306.6" font-family='"Liberation Sans", sans-serif' font-size="8.2" text-anchor="middle" fill="#1a1a1a">400</text>
<text x="457.96" y="306.6" font-family='"Liberation Sans", sans-serif' font-size="8.2" text-anchor="middle" fill="#1a1a1a">600</text>
<text x="411.94" y="306.6" font-family='"Liberation Sans", sans-serif' font-size="8.2" text-anchor="middle" fill="#1a1a1a">800</text>
<text x="530" y="288.3" font-family='"Liberation Sans", sans-serif' font-size="10" text-anchor="start" fill="#1a1a1a">t [<tspan font-size="6.7" dy="-3.5">o</tspan><tspan dy="3.5">C]</tspan></text>
<text x="513.6" y="560.7" font-family='"Liberation Sans", sans-serif' font-size="10.2" text-anchor="start" fill="#1a1a1a">1000/T [K<tspan font-size="6.5" dy="-4">-1</tspan><tspan dy="4">]</tspan></text>
<text transform="translate(372.3,429.7) rotate(-90)" font-family='"Liberation Sans", sans-serif' font-size="10.1" text-anchor="middle" textLength="82.3" lengthAdjust="spacing" fill="#1a1a1a">log(<tspan font-family='"Liberation Serif", serif'>σ</tspan>T) [KΩ<tspan font-size="6.3" dy="-4">-1</tspan><tspan dy="4">cm</tspan><tspan font-size="6.3" dy="-4">-1</tspan><tspan dy="4">]</tspan></text>
<text x="357.2" y="312.7" font-family='"Liberation Sans", sans-serif' font-size="21.3" text-anchor="start" font-weight="bold" fill="#111">(d)</text>
<text x="453.55" y="334.3" font-family='"Liberation Serif", serif' font-size="12.9" text-anchor="middle" fill="#1a1a1a">γ</text>
<text x="552.5" y="397.6" font-family='"Liberation Serif", serif' font-size="12" text-anchor="middle" fill="#444">β</text>
<rect x="508.5" y="326.3" width="70.6" height="16.6" fill="#000"/>
<rect x="505.4" y="323.1" width="70.3" height="16.8" fill="#fff" stroke="#666" stroke-width="0.8"/>
<text x="511.6" y="335.2" font-family='"Liberation Sans", sans-serif' font-size="10.5" text-anchor="start" fill="#1a1a1a">BISNVOX05</text>
<polyline points="421,340.5 427,341.3 434.3,342.5 441.4,343.2 449.3,343.5 457.1,344 466.4,345.8 475.7,347.8 486.4,366.5 497.5,376 510,384.8 523.1,392.8 537.6,401.5 547.8,408.5 552.9,415.6 570.2,435.2 588.9,444.5 609.2,452.6 632,462.2 656.2,470.2 683.3,478.8" fill="none" stroke="#808080" stroke-width="1.0" stroke-linejoin="round"/>
<polyline points="421.4,339.6 427.2,340.6 433.6,341.4 440.3,341.7 447.9,342.7 455.7,343.4 464.3,344.6 473.6,346.7 483.6,349.1 494.5,372.6 506.6,382.4 519.2,391 532.7,399.6 548.1,409 564.5,419.1 582.4,430.8 602.1,445 623.4,461.8 646.3,479.5 672.4,498.6 676.7,503.5 684.8,510.6" fill="none" stroke="#8a8a8a" stroke-width="1.0" stroke-linejoin="round"/>
<polyline points="421,339.6 427,340.5 434.3,341.2 441.4,341.5 449.3,342.4 457.1,343.1 466.4,345.4 475.7,347.1 486.4,366.1 497.5,375.7 510,384.3 523.1,392.4 537.6,401.3 570.6,426.3 588.5,439.3 609.2,454.8 632,474.7 657.2,494.5 683.9,507.8" fill="none" stroke="#f06060" stroke-width="1.0" stroke-linejoin="round"/>
<polyline points="421.1,338.6 426.9,339.6 433.3,340.4 440,340.7 447.6,341.7 455.4,342.4 464,343.6 473.3,345.7 483.3,348.1 494.2,371.6 506.3,381.4 518.9,390 532.4,398.6 547.8,408 564.2,418.1 582.1,429.8 601.8,444 623.1,460.8 646,478.5 672.1,497.6 676.4,502.5 684.5,509.6" fill="none" stroke="#6464ff" stroke-width="1.0" stroke-linejoin="round"/>
<rect x="418.8" y="338.3" width="4.4" height="4.4" fill="#fff" stroke="#f07878" stroke-width="0.9"/>
<rect x="424.8" y="339.1" width="4.4" height="4.4" fill="#fff" stroke="#f07878" stroke-width="0.9"/>
<rect x="432.1" y="340.3" width="4.4" height="4.4" fill="#fff" stroke="#f07878" stroke-width="0.9"/>
<rect x="439.2" y="341" width="4.4" height="4.4" fill="#fff" stroke="#f07878" stroke-width="0.9"/>
<rect x="447.1" y="341.3" width="4.4" height="4.4" fill="#fff" stroke="#f07878" stroke-width="0.9"/>
<rect x="454.9" y="341.8" width="4.4" height="4.4" fill="#fff" stroke="#f07878" stroke-width="0.9"/>
<rect x="464.2" y="343.6" width="4.4" height="4.4" fill="#fff" stroke="#f07878" stroke-width="0.9"/>
<rect x="473.5" y="345.6" width="4.4" height="4.4" fill="#fff" stroke="#f07878" stroke-width="0.9"/>
<rect x="484.2" y="364.3" width="4.4" height="4.4" fill="#fff" stroke="#f07878" stroke-width="0.9"/>
<rect x="495.3" y="373.8" width="4.4" height="4.4" fill="#fff" stroke="#f07878" stroke-width="0.9"/>
<rect x="507.8" y="382.6" width="4.4" height="4.4" fill="#fff" stroke="#f07878" stroke-width="0.9"/>
<rect x="520.9" y="390.6" width="4.4" height="4.4" fill="#fff" stroke="#f07878" stroke-width="0.9"/>
<rect x="535.4" y="399.3" width="4.4" height="4.4" fill="#fff" stroke="#f07878" stroke-width="0.9"/>
<rect x="545.6" y="406.3" width="4.4" height="4.4" fill="#fff" stroke="#f07878" stroke-width="0.9"/>
<rect x="550.7" y="413.4" width="4.4" height="4.4" fill="#fff" stroke="#f07878" stroke-width="0.9"/>
<rect x="568" y="433" width="4.4" height="4.4" fill="#fff" stroke="#f07878" stroke-width="0.9"/>
<rect x="586.7" y="442.3" width="4.4" height="4.4" fill="#fff" stroke="#f07878" stroke-width="0.9"/>
<rect x="607" y="450.4" width="4.4" height="4.4" fill="#fff" stroke="#f07878" stroke-width="0.9"/>
<rect x="629.8" y="460" width="4.4" height="4.4" fill="#fff" stroke="#f07878" stroke-width="0.9"/>
<rect x="654" y="468" width="4.4" height="4.4" fill="#fff" stroke="#f07878" stroke-width="0.9"/>
<rect x="681.1" y="476.6" width="4.4" height="4.4" fill="#fff" stroke="#f07878" stroke-width="0.9"/>
<circle cx="421.4" cy="339.6" r="2.5" fill="#fff" stroke="#7878ff" stroke-width="0.9"/>
<circle cx="427.2" cy="340.6" r="2.5" fill="#fff" stroke="#7878ff" stroke-width="0.9"/>
<circle cx="433.6" cy="341.4" r="2.5" fill="#fff" stroke="#7878ff" stroke-width="0.9"/>
<circle cx="440.3" cy="341.7" r="2.5" fill="#fff" stroke="#7878ff" stroke-width="0.9"/>
<circle cx="447.9" cy="342.7" r="2.5" fill="#fff" stroke="#7878ff" stroke-width="0.9"/>
<circle cx="455.7" cy="343.4" r="2.5" fill="#fff" stroke="#7878ff" stroke-width="0.9"/>
<circle cx="464.3" cy="344.6" r="2.5" fill="#fff" stroke="#7878ff" stroke-width="0.9"/>
<circle cx="473.6" cy="346.7" r="2.5" fill="#fff" stroke="#7878ff" stroke-width="0.9"/>
<circle cx="483.6" cy="349.1" r="2.5" fill="#fff" stroke="#7878ff" stroke-width="0.9"/>
<circle cx="494.5" cy="372.6" r="2.5" fill="#fff" stroke="#7878ff" stroke-width="0.9"/>
<circle cx="506.6" cy="382.4" r="2.5" fill="#fff" stroke="#7878ff" stroke-width="0.9"/>
<circle cx="519.2" cy="391" r="2.5" fill="#fff" stroke="#7878ff" stroke-width="0.9"/>
<circle cx="532.7" cy="399.6" r="2.5" fill="#fff" stroke="#7878ff" stroke-width="0.9"/>
<circle cx="548.1" cy="409" r="2.5" fill="#fff" stroke="#7878ff" stroke-width="0.9"/>
<circle cx="564.5" cy="419.1" r="2.5" fill="#fff" stroke="#7878ff" stroke-width="0.9"/>
<circle cx="582.4" cy="430.8" r="2.5" fill="#fff" stroke="#7878ff" stroke-width="0.9"/>
<circle cx="602.1" cy="445" r="2.5" fill="#fff" stroke="#7878ff" stroke-width="0.9"/>
<circle cx="623.4" cy="461.8" r="2.5" fill="#fff" stroke="#7878ff" stroke-width="0.9"/>
<circle cx="646.3" cy="479.5" r="2.5" fill="#fff" stroke="#7878ff" stroke-width="0.9"/>
<circle cx="672.4" cy="498.6" r="2.5" fill="#fff" stroke="#7878ff" stroke-width="0.9"/>
<circle cx="676.7" cy="503.5" r="2.5" fill="#fff" stroke="#7878ff" stroke-width="0.9"/>
<circle cx="684.8" cy="510.6" r="2.5" fill="#fff" stroke="#7878ff" stroke-width="0.9"/>
<rect x="418.6" y="337.2" width="4.8" height="4.8" fill="#ff0000" stroke="none" stroke-width="0.8"/>
<rect x="424.6" y="338.1" width="4.8" height="4.8" fill="#ff0000" stroke="none" stroke-width="0.8"/>
<rect x="431.9" y="338.8" width="4.8" height="4.8" fill="#ff0000" stroke="none" stroke-width="0.8"/>
<rect x="439" y="339.1" width="4.8" height="4.8" fill="#ff0000" stroke="none" stroke-width="0.8"/>
<rect x="446.9" y="340" width="4.8" height="4.8" fill="#ff0000" stroke="none" stroke-width="0.8"/>
<rect x="454.7" y="340.7" width="4.8" height="4.8" fill="#ff0000" stroke="none" stroke-width="0.8"/>
<rect x="464" y="343" width="4.8" height="4.8" fill="#ff0000" stroke="none" stroke-width="0.8"/>
<rect x="473.3" y="344.7" width="4.8" height="4.8" fill="#ff0000" stroke="none" stroke-width="0.8"/>
<rect x="484" y="363.7" width="4.8" height="4.8" fill="#ff0000" stroke="none" stroke-width="0.8"/>
<rect x="495.1" y="373.3" width="4.8" height="4.8" fill="#ff0000" stroke="none" stroke-width="0.8"/>
<rect x="507.6" y="381.9" width="4.8" height="4.8" fill="#ff0000" stroke="none" stroke-width="0.8"/>
<rect x="520.7" y="390" width="4.8" height="4.8" fill="#ff0000" stroke="none" stroke-width="0.8"/>
<rect x="535.2" y="398.9" width="4.8" height="4.8" fill="#ff0000" stroke="none" stroke-width="0.8"/>
<rect x="568.2" y="423.9" width="4.8" height="4.8" fill="#ff0000" stroke="none" stroke-width="0.8"/>
<rect x="586.1" y="436.9" width="4.8" height="4.8" fill="#ff0000" stroke="none" stroke-width="0.8"/>
<rect x="606.8" y="452.4" width="4.8" height="4.8" fill="#ff0000" stroke="none" stroke-width="0.8"/>
<rect x="629.6" y="472.3" width="4.8" height="4.8" fill="#ff0000" stroke="none" stroke-width="0.8"/>
<rect x="654.8" y="492.1" width="4.8" height="4.8" fill="#ff0000" stroke="none" stroke-width="0.8"/>
<rect x="681.5" y="505.4" width="4.8" height="4.8" fill="#ff0000" stroke="none" stroke-width="0.8"/>
<circle cx="421.1" cy="338.6" r="2.8" fill="#0000ff" stroke="none" stroke-width="0"/>
<circle cx="426.9" cy="339.6" r="2.8" fill="#0000ff" stroke="none" stroke-width="0"/>
<circle cx="433.3" cy="340.4" r="2.8" fill="#0000ff" stroke="none" stroke-width="0"/>
<circle cx="440" cy="340.7" r="2.8" fill="#0000ff" stroke="none" stroke-width="0"/>
<circle cx="447.6" cy="341.7" r="2.8" fill="#0000ff" stroke="none" stroke-width="0"/>
<circle cx="455.4" cy="342.4" r="2.8" fill="#0000ff" stroke="none" stroke-width="0"/>
<circle cx="464" cy="343.6" r="2.8" fill="#0000ff" stroke="none" stroke-width="0"/>
<circle cx="473.3" cy="345.7" r="2.8" fill="#0000ff" stroke="none" stroke-width="0"/>
<circle cx="483.3" cy="348.1" r="2.8" fill="#0000ff" stroke="none" stroke-width="0"/>
<circle cx="494.2" cy="371.6" r="2.8" fill="#0000ff" stroke="none" stroke-width="0"/>
<circle cx="506.3" cy="381.4" r="2.8" fill="#0000ff" stroke="none" stroke-width="0"/>
<circle cx="518.9" cy="390" r="2.8" fill="#0000ff" stroke="none" stroke-width="0"/>
<circle cx="532.4" cy="398.6" r="2.8" fill="#0000ff" stroke="none" stroke-width="0"/>
<circle cx="547.8" cy="408" r="2.8" fill="#0000ff" stroke="none" stroke-width="0"/>
<circle cx="564.2" cy="418.1" r="2.8" fill="#0000ff" stroke="none" stroke-width="0"/>
<circle cx="582.1" cy="429.8" r="2.8" fill="#0000ff" stroke="none" stroke-width="0"/>
<circle cx="601.8" cy="444" r="2.8" fill="#0000ff" stroke="none" stroke-width="0"/>
<circle cx="623.1" cy="460.8" r="2.8" fill="#0000ff" stroke="none" stroke-width="0"/>
<circle cx="646" cy="478.5" r="2.8" fill="#0000ff" stroke="none" stroke-width="0"/>
<circle cx="672.1" cy="497.6" r="2.8" fill="#0000ff" stroke="none" stroke-width="0"/>
<circle cx="676.4" cy="502.5" r="2.8" fill="#0000ff" stroke="none" stroke-width="0"/>
<circle cx="684.5" cy="509.6" r="2.8" fill="#0000ff" stroke="none" stroke-width="0"/>
<rect x="595.1" y="313.2" width="90.3" height="52.8" fill="#fff" stroke="#888" stroke-width="0.9"/>
<line x1="394.3" y1="313.2" x2="685.4" y2="313.2" stroke="#2a2a2a" stroke-width="1.4"/>
<line x1="685.4" y1="313.2" x2="685.4" y2="527.4" stroke="#2a2a2a" stroke-width="1.4"/>
<line x1="666.71" y1="313.2" x2="666.71" y2="317.2" stroke="#2a2a2a" stroke-width="1.1"/>
<line x1="587.21" y1="313.2" x2="587.21" y2="315.6" stroke="#2a2a2a" stroke-width="1.1"/>
<line x1="685.4" y1="360.76" x2="681.6" y2="360.76" stroke="#2a2a2a" stroke-width="1.1"/>
<line x1="685.4" y1="348.87" x2="683.4" y2="348.87" stroke="#2a2a2a" stroke-width="1.1"/>
<line x1="685.4" y1="336.98" x2="681.6" y2="336.98" stroke="#2a2a2a" stroke-width="1.1"/>
<line x1="685.4" y1="325.09" x2="683.4" y2="325.09" stroke="#2a2a2a" stroke-width="1.1"/>
<line x1="685.4" y1="313.2" x2="681.6" y2="313.2" stroke="#2a2a2a" stroke-width="1.1"/>
<line x1="600.6" y1="321.1" x2="623.7" y2="321.1" stroke="#9a9a9a" stroke-width="1.2"/>
<rect x="610" y="318.9" width="4.4" height="4.4" fill="#fff" stroke="#f07878" stroke-width="0.9"/>
<text x="627.7" y="324.7" font-family='"Liberation Sans", sans-serif' font-size="10.4" text-anchor="start" fill="#1a1a1a">1st heating</text>
<line x1="600.6" y1="333.9" x2="623.7" y2="333.9" stroke="#9a9a9a" stroke-width="1.2"/>
<circle cx="612.2" cy="333.9" r="2.5" fill="#fff" stroke="#7878ff" stroke-width="0.9"/>
<text x="627.7" y="337.5" font-family='"Liberation Sans", sans-serif' font-size="10.4" text-anchor="start" fill="#1a1a1a">1st cooling</text>
<line x1="600.6" y1="346.8" x2="623.7" y2="346.8" stroke="#f58080" stroke-width="1.2"/>
<rect x="609.8" y="344.4" width="4.8" height="4.8" fill="#ff0000" stroke="none" stroke-width="0.8"/>
<text x="627.7" y="350.4" font-family='"Liberation Sans", sans-serif' font-size="10.4" text-anchor="start" fill="#1a1a1a">2nd heating</text>
<line x1="600.6" y1="360" x2="623.7" y2="360" stroke="#8080ff" stroke-width="1.2"/>
<circle cx="612.2" cy="360" r="2.8" fill="#0000ff" stroke="none" stroke-width="0"/>
<text x="627.7" y="363.6" font-family='"Liberation Sans", sans-serif' font-size="10.4" text-anchor="start" fill="#1a1a1a">2nd cooling</text>
</svg>
</body></html>
